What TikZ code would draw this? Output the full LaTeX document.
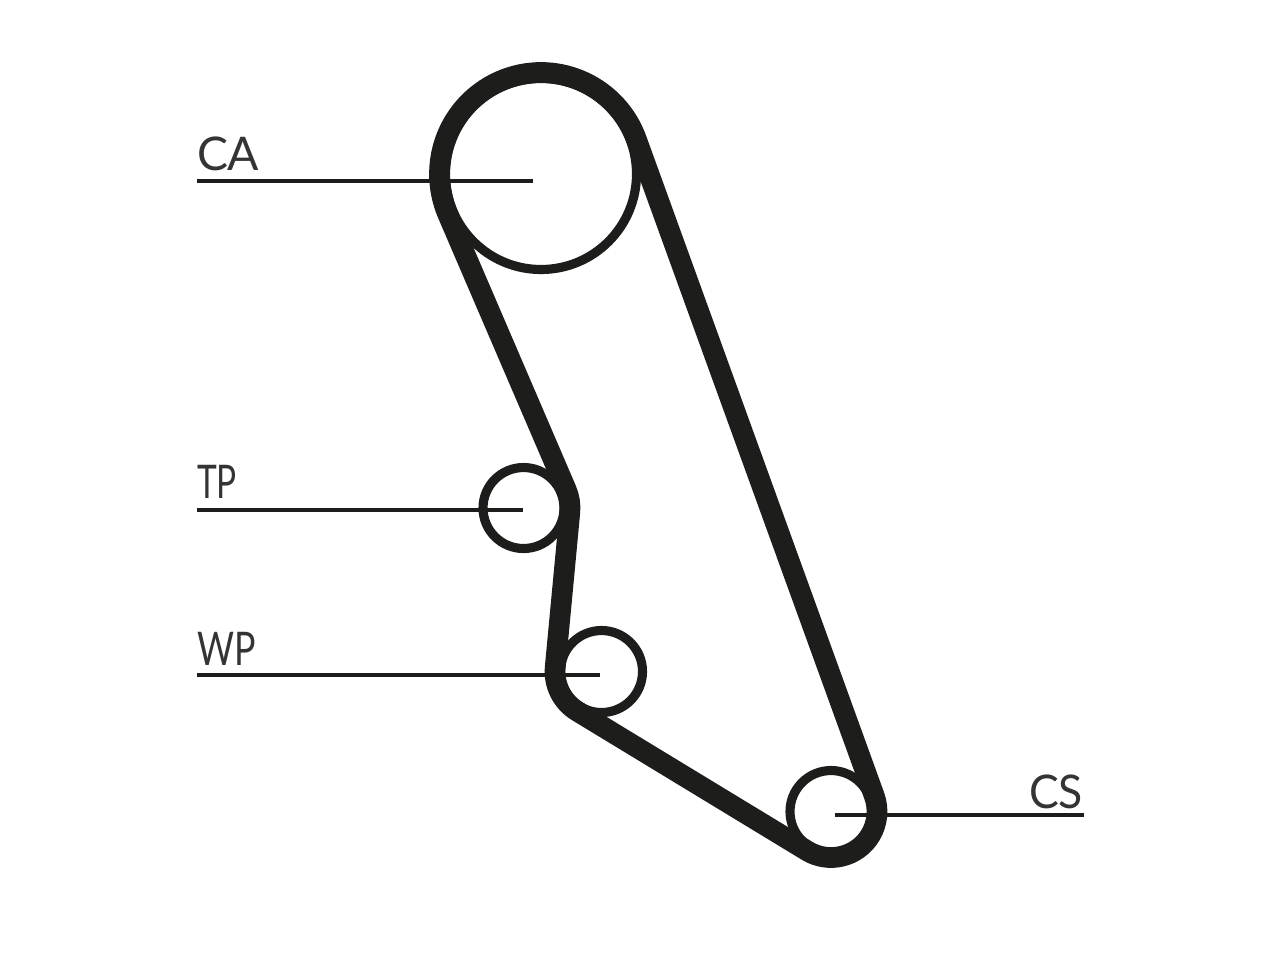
\documentclass[tikz,border=0pt]{standalone}
\usepackage{fontspec}
\setmainfont{Lato}
\usetikzlibrary{arrows,positioning,calc}
\definecolor{beltblack}{HTML}{1D1D1B}
\tikzset{
  pulley/.style={circle,draw=beltblack,line width=2.6pt,inner sep=0pt,outer sep=0pt},
  belt/.style={draw=beltblack,line width=5.9pt,line join=round},
  leader/.style={draw=beltblack,line width=1.1pt},
  partname/.style={inner sep=0pt,outer sep=0pt,text=beltblack!90,transform shape,font=\fontsize{13.2pt}{14pt}\selectfont}
}
\begin{document}
\begin{tikzpicture}
   \useasboundingbox (0,0) rectangle (12.8,9.6);

   \node [pulley,minimum size=1.91cm] (CA) at (5.41,7.86) {};
   \node [pulley,minimum size=0.81cm] (TP) at (5.235,4.52) {};
   \node [pulley,minimum size=0.82cm] (WP) at (6.015,2.885) {};
   \node [pulley,minimum size=0.82cm] (CS) at (8.31,1.485) {};

   \coordinate (startCA) at (1.97,7.79);
   \coordinate (endCA) at (5.33,7.79);
   \coordinate (startTP) at (1.97,4.50);
   \coordinate (endTP) at (5.23,4.50);
   \coordinate (startWP) at (1.97,2.85);
   \coordinate (endWP) at (6.00,2.85);
   \coordinate (startCS) at (10.84,1.45);
   \coordinate (endCS) at (8.35,1.45);

   \node at (1.97,7.90) [partname,anchor=base west] (labelCA) {CA};
   \node at (1.97,4.62) [partname,anchor=base west,xscale=0.72] (labelTP) {TP};
   \node at (1.97,2.95) [partname,anchor=base west,xscale=0.77] (labelWP) {WP};
   \node at (10.83,1.52) [partname,anchor=base east,xscale=0.96] (labelCS) {CS};

   \draw[leader] (startCA) -- (endCA);
   \draw[leader] (startTP) -- (endTP);
   \draw[leader] (startWP) -- (endWP);
   \draw[leader] (startCS) -- (endCS);

   \draw[belt] ($(CA)+(19.92:1.015)$)
      arc[start angle=19.92,end angle=203.27,radius=1.015]
      -- ($(TP)+(23.27:0.465)$)
      arc[start angle=23.27,end angle=-5.38,radius=0.465]
      -- ($(WP)+(174.62:0.465)$)
      arc[start angle=174.62,end angle=238.72,radius=0.465]
      -- ($(CS)+(238.72:0.46)$)
      arc[start angle=238.72,end angle=379.92,radius=0.46]
      -- cycle;
\end{tikzpicture}
\end{document}
